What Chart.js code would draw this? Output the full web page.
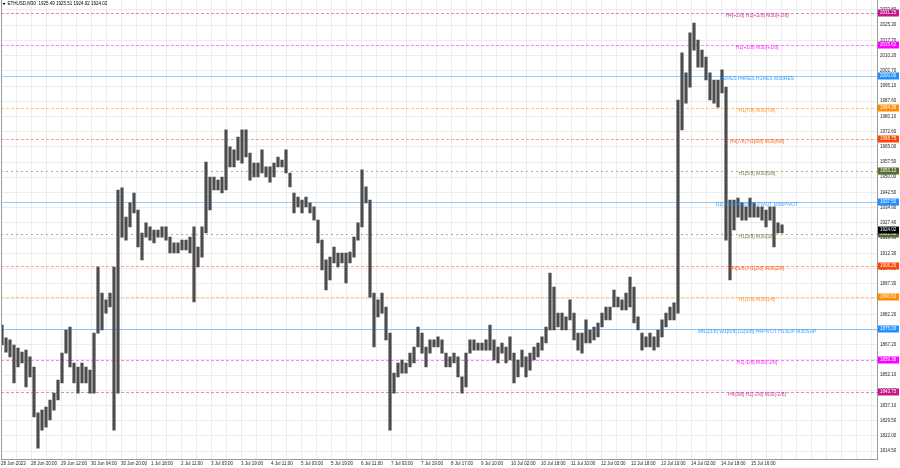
<!DOCTYPE html>
<html>
<head>
<meta charset="utf-8">
<title>ETHUSD,M30</title>
<script src="https://cdn.jsdelivr.net/npm/chart.js@4.4.0/dist/chart.umd.min.js"></script>
<style>
  html, body { margin: 0; padding: 0; background: #fff; }
</style>
</head>
<body>
<canvas id="myChart" width="900" height="468"></canvas>
<script>
var chartTitle = 'ETHUSD,M30  1925.49 1925.51 1924.02 1924.02';

// time axis labels, one every 32 bars
var timeLabels = ['28 Jun 2023', '28 Jun 20:00', '29 Jun 12:00', '30 Jun 04:00', '30 Jun 20:00',
  '1 Jul 18:00', '2 Jul 11:00', '3 Jul 03:00', '3 Jul 19:00', '4 Jul 11:00', '5 Jul 03:00',
  '5 Jul 19:00', '6 Jul 11:00', '7 Jul 03:00', '7 Jul 19:00', '8 Jul 17:00', '9 Jul 10:00',
  '10 Jul 02:00', '10 Jul 18:00', '11 Jul 10:00', '12 Jul 02:00', '12 Jul 18:00', '13 Jul 10:00',
  '14 Jul 02:00', '14 Jul 18:00', '15 Jul 16:00'];

// price ranges, one pair per group of bars (high / low)
var highs = [
  1876.9, 1870.5, 1869.5, 1867.0, 1865.5, 1863.5, 1864.5, 1861.1, 1856.1, 1833.4,
  1834.8, 1836.3, 1839.8, 1843.2, 1849.7, 1863.0, 1874.4, 1875.9, 1858.1, 1856.1,
  1858.1, 1856.1, 1854.6, 1872.9, 1905.6, 1892.7, 1889.3, 1892.7, 1905.6, 1943.7,
  1944.7, 1930.3, 1937.3, 1942.2, 1933.8, 1922.4, 1927.4, 1925.4, 1923.9, 1923.9,
  1925.4, 1925.4, 1920.4, 1917.5, 1917.5, 1918.9, 1918.9, 1920.4, 1925.4, 1915.5,
  1925.4, 1957.5, 1950.1, 1950.1, 1948.6, 1950.1, 1973.4, 1965.0, 1963.5, 1969.9,
  1973.4, 1973.4, 1962.0, 1957.0, 1957.0, 1963.5, 1955.1, 1955.1, 1957.0, 1960.0,
  1958.5, 1963.5, 1952.1, 1942.2, 1940.2, 1938.7, 1940.2, 1937.3, 1935.3, 1928.8,
  1918.9, 1909.1, 1910.5, 1915.5, 1912.5, 1912.5, 1912.5, 1913.0, 1920.4, 1927.4,
  1953.6, 1945.2, 1938.7, 1892.7, 1889.3, 1892.7, 1885.8, 1872.9, 1853.1, 1858.1,
  1859.6, 1858.1, 1863.0, 1866.0, 1875.9, 1872.9, 1866.0, 1869.5, 1869.5, 1871.0,
  1869.5, 1863.0, 1861.1, 1863.0, 1861.1, 1851.2, 1863.0, 1869.5, 1869.5, 1868.0,
  1868.0, 1869.5, 1876.9, 1869.5, 1866.0, 1868.0, 1866.0, 1871.0, 1863.0, 1859.6,
  1864.5, 1861.1, 1863.0, 1866.0, 1868.0, 1871.0, 1875.9, 1902.6, 1895.7, 1882.8,
  1882.8, 1880.9, 1889.3, 1882.8, 1872.9, 1872.9, 1879.4, 1874.4, 1875.9, 1877.9,
  1882.8, 1885.8, 1885.8, 1894.2, 1890.7, 1889.3, 1892.7, 1900.6, 1895.7, 1880.9,
  1872.9, 1871.0, 1872.9, 1871.0, 1874.4, 1879.4, 1882.8, 1885.8, 1887.8, 1988.2,
  2011.5, 2001.6, 2021.4, 2026.3, 2017.9, 2012.9, 2009.5, 2001.6, 1998.1, 1998.1,
  2003.1, 1994.6, 1938.7, 1938.7, 1939.7, 1937.3, 1935.3, 1939.7, 1937.3, 1935.3,
  1935.3, 1933.8, 1935.3, 1935.3, 1927.4, 1926.4
];
var lows = [
  1867.0, 1863.5, 1861.1, 1848.2, 1856.1, 1858.1, 1846.2, 1851.2, 1831.4, 1816.0,
  1824.9, 1826.4, 1829.9, 1834.8, 1839.8, 1848.2, 1863.0, 1856.1, 1848.2, 1843.2,
  1848.2, 1848.2, 1843.2, 1843.2, 1872.9, 1874.4, 1882.8, 1885.8, 1824.9, 1843.2,
  1920.4, 1918.9, 1925.4, 1932.3, 1915.5, 1909.1, 1920.4, 1918.9, 1917.5, 1920.4,
  1920.4, 1918.9, 1912.5, 1912.5, 1912.5, 1914.0, 1914.0, 1912.5, 1888.3, 1905.6,
  1910.5, 1922.4, 1933.8, 1943.7, 1943.7, 1942.2, 1943.7, 1955.1, 1955.1, 1958.5,
  1957.0, 1960.0, 1948.6, 1950.1, 1950.1, 1952.1, 1950.1, 1947.6, 1950.1, 1955.1,
  1955.1, 1952.1, 1945.2, 1932.3, 1935.3, 1932.3, 1935.3, 1932.3, 1928.8, 1917.5,
  1904.1, 1894.2, 1899.2, 1907.6, 1905.6, 1907.6, 1897.7, 1907.6, 1910.5, 1918.9,
  1925.4, 1937.3, 1890.7, 1866.0, 1880.9, 1882.8, 1869.5, 1824.9, 1843.2, 1851.2,
  1853.1, 1853.1, 1856.1, 1858.1, 1866.0, 1863.0, 1856.1, 1863.0, 1866.0, 1866.0,
  1863.0, 1856.1, 1856.1, 1858.1, 1851.2, 1843.2, 1846.2, 1863.0, 1864.5, 1864.5,
  1864.5, 1864.5, 1864.5, 1859.6, 1858.1, 1863.0, 1858.1, 1859.6, 1848.2, 1851.2,
  1856.1, 1851.2, 1854.6, 1859.6, 1861.1, 1864.5, 1868.0, 1874.4, 1874.4, 1875.9,
  1874.4, 1874.4, 1879.4, 1869.5, 1864.5, 1863.0, 1868.0, 1868.0, 1869.5, 1871.0,
  1875.9, 1879.4, 1879.4, 1885.8, 1885.8, 1884.3, 1884.3, 1885.8, 1877.9, 1874.4,
  1864.5, 1866.0, 1866.0, 1864.5, 1866.0, 1871.0, 1875.9, 1879.4, 1879.4, 1882.8,
  1973.4, 1986.7, 1994.6, 2012.9, 2004.5, 2004.5, 1998.1, 1988.2, 1986.7, 1984.7,
  1991.7, 1918.9, 1899.2, 1923.9, 1930.3, 1928.8, 1928.8, 1930.3, 1930.3, 1930.3,
  1928.8, 1925.4, 1928.8, 1915.5, 1922.4, 1922.4
];
var lastPrice = 1924.02;

// price axis
var priceTicks = [2032.8, 2025.3, 2017.7, 2010.2, 2002.7, 1995.1, 1987.6, 1980.1, 1972.6, 1965.0,
  1957.5, 1950.0, 1942.5, 1934.9, 1927.4, 1919.9, 1912.3, 1904.8, 1897.3, 1889.8,
  1882.2, 1874.7, 1867.2, 1859.7, 1852.1, 1844.6, 1837.1, 1829.5, 1822.0, 1814.5];
var priceTickLabels = ['2032.80', '2025.30', '2017.70', '2010.20', '2002.70', '1995.10', '1987.60',
  '1980.10', '1972.60', '1965.00', '1957.50', '1950.00', '1942.50', '1934.90', '1927.40', '1919.90',
  '1912.30', '1904.80', '1897.30', '1889.80', '1882.20', '1874.70', '1867.20', '1859.70', '1852.10',
  '1844.60', '1837.10', '1829.50', '1822.00', '1814.50'];

// murrey math levels
var levelPrices = [2031.25, 2015.62, 2000.00, 1984.38, 1968.75, 1953.12, 1937.50,
  1921.88, 1906.25, 1890.62, 1875.00, 1859.38, 1843.75];
var levelNames = ['H4[+1/8] H1[+2/8] M30[+2/8]', 'H1[+1/8] M30[+1/8]', 'H1RES H4RES H1RES M30RES',
  'H1[7/8] M30[7/8]', 'H4[7/8] H1[6/8] M30[6/8]', 'H1[5/8] M30[5/8]', 'D1[7/8] H4[6/8] H1PIVOT M30PIVOT',
  'H1[3/8] M30[3/8]', 'H4[5/8] H1[2/8] M30[2/8]', 'H1[1/8] M30[1/8]',
  'MN1[3/8] W1[6/8] D1[6/8] H4PIVOT H1SUP M30SUP', 'H1[-1/8] M30[-1/8]', 'H4[3/8] H1[-2/8] M30[-2/8]'];

// styles for the levels
var levelColors = ['#C71585', '#FF00FF', '#1E90FF', '#FF8C00', '#FF4500', '#556B2F', '#1E90FF',
  '#556B2F', '#FF4500', '#FF8C00', '#1E90FF', '#FF00FF', '#C71585'];
var levelDashes = [[3, 2], [3, 2], [], [3, 2], [3, 2], [2, 3], [], [2, 3], [3, 2], [3, 2], [], [3, 2], [3, 2]];

var FONT = '"Liberation Sans", Arial, sans-serif';

/*
# levels, labels and price boxes
*/
var levelsPlugin = {
  id: 'levels',
  beforeDatasetsDraw: function(chart) {
    var c = chart.ctx, a = chart.chartArea, ys = chart.scales.y;
    c.save();
    c.lineWidth = 1;
    levelPrices.forEach(function(p, i) {
      var y = Math.round(ys.getPixelForValue(p)) + 0.5;
      c.strokeStyle = levelColors[i];
      c.globalAlpha = levelDashes[i].length ? 0.5 : 0.45;
      c.setLineDash(levelDashes[i]);
      c.beginPath();
      c.moveTo(a.left, y);
      c.lineTo(a.right, y);
      c.stroke();
    });
    c.restore();
  },
  afterDraw: function(chart) {
    var c = chart.ctx, a = chart.chartArea, ys = chart.scales.y;
    c.save();
    // left border
    c.strokeStyle = '#9a9a9a';
    c.beginPath();
    c.moveTo(a.left + 0.5, a.top);
    c.lineTo(a.left + 0.5, a.bottom);
    c.stroke();

    // level names
    c.font = '5px ' + FONT;
    c.textAlign = 'center';
    c.textBaseline = 'middle';
    levelPrices.forEach(function(p, i) {
      var y = Math.round(ys.getPixelForValue(p));
      c.fillStyle = levelColors[i];
      c.globalAlpha = 0.85;
      c.fillText(levelNames[i], 757, y + 3);
    });
    c.globalAlpha = 1;

    // price boxes on the axis
    function box(p, color) {
      var y = Math.round(ys.getPixelForValue(p));
      c.fillStyle = color;
      c.fillRect(a.right + 0.5, y - 3.5, 21, 7);
      c.fillStyle = '#ffffff';
      c.textAlign = 'left';
      c.font = '4.5px ' + FONT;
      c.fillText(p.toFixed(2), a.right + 2.5, y);
    }
    levelPrices.forEach(function(p, i) { box(p, levelColors[i]); });
    box(lastPrice, '#000000');

    // symbol title
    c.fillStyle = '#000';
    c.beginPath();
    c.moveTo(2.5, 3);
    c.lineTo(5.5, 3);
    c.lineTo(4, 5);
    c.closePath();
    c.fill();
    c.font = '4.5px ' + FONT;
    c.textAlign = 'left';
    c.textBaseline = 'middle';
    c.fillText(chartTitle, 7.5, 4.2);
    c.restore();
  }
};

var ctx = document.getElementById('myChart').getContext('2d');
var chart = new Chart(ctx, {
  type: 'bar',
  data: {
    datasets: [{
      data: lows.map(function(lo, i) { return { x: i, y: [lo, highs[i]] }; }),
      backgroundColor: '#4c4c4c',
      borderWidth: 0,
      barThickness: 2.5
    }]
  },
  options: {
    responsive: false,
    animation: false,
    layout: { padding: { left: 1, top: 0, right: 0, bottom: 0 } },
    plugins: {
      legend: { display: false },
      tooltip: { enabled: false }
    },
    scales: {
      x: {
        type: 'linear',
        offset: false,
        min: -0.25,
        max: 218.875,
        afterBuildTicks: function(scale) {
          var t = [];
          for (var j = 0; j <= 58; j++) t.push({ value: 3.75 * j - 0.25 });
          scale.ticks = t;
        },
        afterFit: function(scale) {
          scale.height = 9;
          scale.paddingLeft = 0;
          scale.paddingRight = 0;
        },
        grid: { color: '#ececec', drawTicks: false, offset: false },
        border: { color: '#9a9a9a' },
        ticks: {
          autoSkip: false,
          maxRotation: 0,
          align: 'start',
          padding: 2,
          color: '#222',
          font: { size: 4.5, family: FONT },
          callback: function(v, i) {
            return (i % 2 === 0 && timeLabels[i / 2]) ? timeLabels[i / 2] : '';
          }
        }
      },
      y: {
        position: 'right',
        min: 1810.6,
        max: 2037.68,
        afterBuildTicks: function(scale) {
          scale.ticks = priceTicks.map(function(v) { return { value: v }; });
        },
        afterFit: function(scale) {
          scale.width = 22.5;
          scale.paddingTop = 0;
          scale.paddingBottom = 0;
        },
        grid: { color: '#ececec', drawTicks: false },
        border: { color: '#9a9a9a' },
        ticks: {
          autoSkip: false,
          padding: 2.5,
          color: '#222',
          font: { size: 4.5, family: FONT },
          callback: function(v, i) { return priceTickLabels[i]; }
        }
      }
    }
  },
  plugins: [levelsPlugin]
});
</script>
</body>
</html>
